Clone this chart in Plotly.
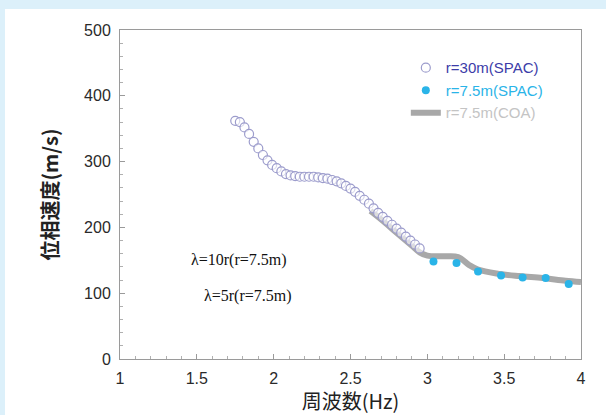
import plotly.graph_objects as go

# r=30m (SPAC) open circles
spac30_f = [1.75, 1.78, 1.81, 1.84, 1.87, 1.90, 1.93, 1.96, 1.99, 2.02, 2.05, 2.08, 2.11, 2.14,
            2.17, 2.20, 2.23, 2.26, 2.29, 2.32, 2.35, 2.38, 2.41, 2.44, 2.47, 2.50, 2.53, 2.56,
            2.59, 2.62, 2.65, 2.68, 2.71, 2.74, 2.77, 2.80, 2.83, 2.86, 2.89, 2.92, 2.95]
spac30_v = [362, 360, 352, 342, 330, 320, 310, 302, 295, 290, 285, 281, 279, 278,
            277, 277, 277, 277, 276, 275, 274, 272, 270, 267, 263, 259, 254, 248,
            242, 236, 229, 222, 216, 210, 204, 198, 192, 186, 180, 174, 168]

# r=7.5m (SPAC) filled dots
spac75_f = [3.04, 3.19, 3.33, 3.48, 3.62, 3.77, 3.92]
spac75_v = [148, 146, 133, 127, 124, 123, 114]

# r=7.5m (COA) thick gray line
coa_f = [2.63, 2.70, 2.80, 2.90, 2.95, 3.00, 3.10, 3.20, 3.27, 3.33, 3.45, 3.60, 3.75, 3.90, 4.00]
coa_v = [225, 212, 192, 172, 162, 157, 156, 155, 143, 136, 130, 126, 123, 119, 117]

x_ticks = [1, 1.5, 2, 2.5, 3, 3.5, 4]
x_labels = ["1", "1.5", "2", "2.5", "3", "3.5", "4"]
y_ticks = [0, 100, 200, 300, 400, 500]

fig = go.Figure()
fig.add_trace(go.Scatter(
    x=coa_f, y=coa_v, mode="lines",
    line=dict(color="#a8a8a8", width=6, shape="spline"),
    legendrank=3,
    name='<span style="color:#c4c4c4">r=7.5m(COA)</span>'))
fig.add_trace(go.Scatter(
    x=spac30_f, y=spac30_v, mode="markers",
    marker=dict(symbol="circle", size=9, color="rgba(255,255,255,0.6)",
                line=dict(color="#9c9ccc", width=1.2)),
    legendrank=1,
    name='<span style="color:#3c3ca8">r=30m(SPAC)</span>'))
fig.add_trace(go.Scatter(
    x=spac75_f, y=spac75_v, mode="markers",
    marker=dict(symbol="circle", size=8, color="#2ab4e8"),
    legendrank=2,
    name='<span style="color:#2ab4e8">r=7.5m(SPAC)</span>'))

fig.add_annotation(x=1.45, y=150, xref="x", yref="y", text="λ=10r(r=7.5m)",
                   showarrow=False, xanchor="left",
                   font=dict(family="Liberation Serif, Times New Roman, serif", size=16, color="#111"))
fig.add_annotation(x=1.535, y=96, xref="x", yref="y", text="λ=5r(r=7.5m)",
                   showarrow=False, xanchor="left",
                   font=dict(family="Liberation Serif, Times New Roman, serif", size=16, color="#111"))

# light-blue frame strips (top and left) on a white page
fig.add_shape(type="rect", xref="paper", yref="paper",
              x0=-0.27, x1=1.06, y0=1.0638, y1=1.2,
              fillcolor="#dcf0fa", line=dict(width=0), layer="above")
fig.add_shape(type="rect", xref="paper", yref="paper",
              x0=-0.27, x1=-0.2495, y0=-0.2, y1=1.2,
              fillcolor="#dcf0fa", line=dict(width=0), layer="above")

axis_common = dict(showline=True, linecolor="#9a9a9a", linewidth=1, mirror=True,
                   showgrid=False, zeroline=False, ticks="inside", ticklen=5,
                   tickcolor="#9a9a9a", ticklabelstandoff=5,
                   tickfont=dict(family="Liberation Sans, Arial, sans-serif", size=16, color="#2a2a2a"))

fig.update_layout(
    width=606, height=415,
    margin=dict(l=120, r=25, t=30, b=56),
    paper_bgcolor="white", plot_bgcolor="white",
    xaxis=dict(range=[1, 4], tickvals=x_ticks, ticktext=x_labels,
               minor=dict(dtick=0.1, ticks="inside", ticklen=3, tickcolor="#b0b0b0"),
               title=dict(text="周波数(Hz)", standoff=2,
                          font=dict(family="Noto Sans CJK JP", size=20, color="#222")),
               **axis_common),
    yaxis=dict(range=[0, 500], tickvals=y_ticks,
               minor=dict(dtick=20, ticks="inside", ticklen=3, tickcolor="#b0b0b0"),
               title=dict(text="<b>位相速度(m/s)</b>", standoff=20,
                          font=dict(family="Noto Sans CJK JP", size=20, color="#222")),
               **axis_common),
    legend=dict(x=0.62, y=0.935, xanchor="left", yanchor="top",
                bgcolor="rgba(0,0,0,0)",
                font=dict(family="Liberation Sans, Arial, sans-serif", size=15),
                itemwidth=30, tracegroupgap=0),
    showlegend=True,
)

fig.write_html("out.html")
